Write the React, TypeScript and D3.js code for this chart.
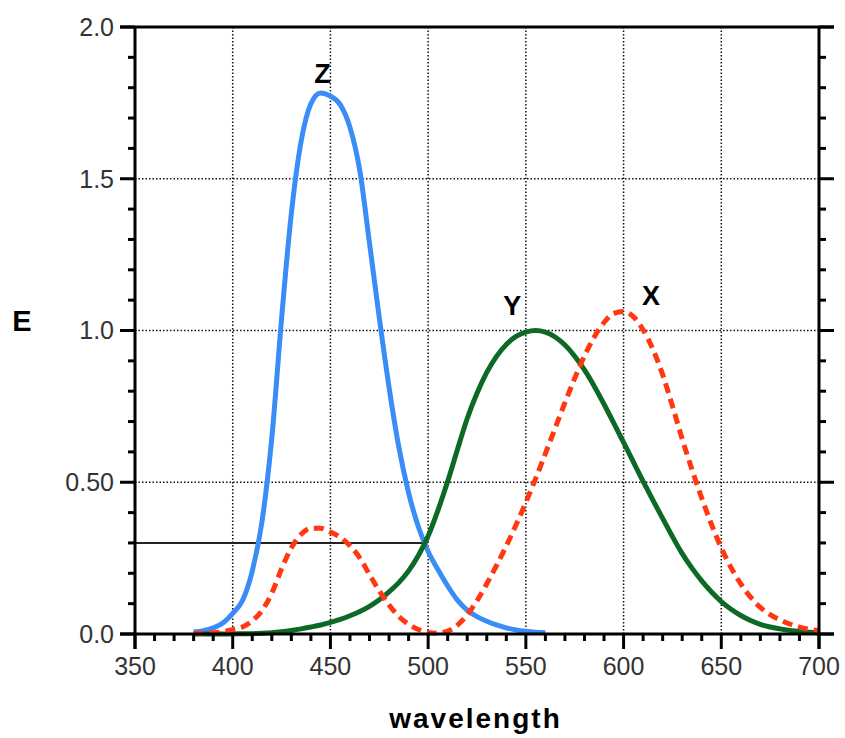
import React from "react";
import * as d3 from "d3";

// CIE 1931 colour matching functions, read at 5 nm steps
const wavelengths = [
  380, 385, 390, 395, 400, 405, 410, 415, 420, 425, 430, 435, 440, 445, 450, 455, 460, 465, 470, 475,
  480, 485, 490, 495, 500, 505, 510, 515, 520, 525, 530, 535, 540, 545, 550, 555, 560, 565, 570, 575,
  580, 585, 590, 595, 600, 605, 610, 615, 620, 625, 630, 635, 640, 645, 650, 655, 660, 665, 670, 675,
  680, 685, 690, 695, 700,
];

const xBar = [
  0.0014, 0.0022, 0.0042, 0.0077, 0.0143, 0.0232, 0.0435, 0.0776, 0.1344, 0.2148, 0.2839, 0.3285,
  0.3483, 0.3481, 0.3362, 0.3187, 0.2908, 0.2511, 0.1954, 0.1421, 0.0956, 0.058, 0.032, 0.0147,
  0.0049, 0.0024, 0.0093, 0.0291, 0.0633, 0.1096, 0.1655, 0.2257, 0.2904, 0.3597, 0.4334, 0.5121,
  0.5945, 0.6784, 0.7621, 0.8425, 0.9163, 0.9786, 1.0263, 1.0567, 1.0622, 1.0456, 1.0026, 0.9384,
  0.8544, 0.7514, 0.6424, 0.5419, 0.4479, 0.3608, 0.2835, 0.2187, 0.1649, 0.1212, 0.0874, 0.0636,
  0.0468, 0.0329, 0.0227, 0.0158, 0.0114,
];

const yBar = [
  0.0, 0.0001, 0.0001, 0.0002, 0.0004, 0.0006, 0.0012, 0.0022, 0.004, 0.0073, 0.0116, 0.0168,
  0.023, 0.0298, 0.038, 0.048, 0.06, 0.0739, 0.091, 0.1126, 0.139, 0.1693, 0.208, 0.2586, 0.323,
  0.4073, 0.503, 0.6082, 0.71, 0.7932, 0.862, 0.9149, 0.954, 0.9803, 0.995, 1.0, 0.995, 0.9786,
  0.952, 0.9154, 0.87, 0.8163, 0.757, 0.6949, 0.631, 0.5668, 0.503, 0.4412, 0.381, 0.321, 0.265,
  0.217, 0.175, 0.1382, 0.107, 0.0816, 0.061, 0.0446, 0.032, 0.0232, 0.017, 0.0119, 0.0082,
  0.0057, 0.0041,
];

// z runs from 380 to 560 nm
const zBar = [
  0.0065, 0.0106, 0.0201, 0.0362, 0.0679, 0.1102, 0.2074, 0.3713, 0.6456, 1.039, 1.3856, 1.623,
  1.7471, 1.7826, 1.7721, 1.7441, 1.6692, 1.5281, 1.2876, 1.0419, 0.813, 0.6162, 0.4652, 0.3533,
  0.272, 0.2123, 0.1582, 0.1117, 0.0783, 0.0573, 0.0422, 0.0298, 0.0203, 0.0134, 0.0088, 0.0058,
  0.0039,
];

const xTicks = [350, 400, 450, 500, 550, 600, 650, 700];
const xMinorTicks = [
  360, 370, 380, 390, 410, 420, 430, 440, 460, 470, 480, 490, 510, 520, 530, 540, 560, 570, 580,
  590, 610, 620, 630, 640, 660, 670, 680, 690,
];
const yTicks = [0, 0.5, 1.0, 1.5, 2.0];
const yTickLabels = ["0.0", "0.50", "1.0", "1.5", "2.0"];
const yMinorTicks = [0.1, 0.2, 0.3, 0.4, 0.6, 0.7, 0.8, 0.9, 1.1, 1.2, 1.3, 1.4, 1.6, 1.7, 1.8, 1.9];
const xGrid = [400, 450, 500, 550, 600, 650];
const yGrid = [0.5, 1.0, 1.5];

// reference line from the axis to where Y and Z cross
const refLevel = 0.3;
const refEnd = 499.5;

const curveLabels = [
  { name: "Z", wl: 446, value: 1.815 },
  { name: "Y", wl: 543, value: 1.051 },
  { name: "X", wl: 614, value: 1.084 },
];

const W = 845;
const H = 738;
const left = 135, right = 819, top = 27, bottom = 634;

export default function App() {
  const x = d3.scaleLinear().domain([350, 700]).range([left, right]);
  const y = d3.scaleLinear().domain([0, 2]).range([bottom, top]);

  const line = d3
    .line<[number, number]>()
    .x((d) => x(d[0]))
    .y((d) => y(d[1]))
    .curve(d3.curveMonotoneX);

  const xPts = wavelengths.map((w, i) => [w, xBar[i]] as [number, number]);
  const yPts = wavelengths.map((w, i) => [w, yBar[i]] as [number, number]);
  const zPts = zBar.map((v, i) => [wavelengths[i], v] as [number, number]);

  const tickFont = "'Liberation Sans', Arial, sans-serif";
  const majorLen = 15, minorLen = 7;

  return (
    <svg
      width={W}
      height={H}
      style={{ position: "absolute", left: 0, top: 0, background: "#fff" }}
      fontFamily={tickFont}
    >
      {/* grid */}
      <g stroke="#111" strokeWidth={1.5} strokeDasharray="1.5,2">
        {xGrid.map((t) => (
          <line key={"gx" + t} x1={x(t)} x2={x(t)} y1={top} y2={bottom} />
        ))}
        {yGrid.map((t) => (
          <line key={"gy" + t} x1={left} x2={right} y1={y(t)} y2={y(t)} />
        ))}
      </g>

      <line x1={left} x2={x(refEnd)} y1={y(refLevel)} y2={y(refLevel)} stroke="#222" strokeWidth={2} />

      {/* curves */}
      <path d={line(zPts) ?? ""} fill="none" stroke="#3a8cf7" strokeWidth={5} strokeLinejoin="round" />
      <path d={line(yPts) ?? ""} fill="none" stroke="#0c6a24" strokeWidth={5} strokeLinejoin="round" />
      <path d={line(xPts) ?? ""} fill="none" stroke="#ff3812" strokeWidth={5} strokeDasharray="10,6" />

      {/* frame */}
      <g stroke="#000" strokeWidth={3} fill="none">
        <line x1={left} x2={left} y1={top} y2={bottom + majorLen} />
        <line x1={right} x2={right} y1={top} y2={bottom + majorLen} />
        <line x1={left - majorLen} x2={right + majorLen} y1={top} y2={top} />
        <line x1={left - majorLen} x2={right + majorLen} y1={bottom} y2={bottom} />
        {yTicks.map((t) => (
          <g key={"yt" + t}>
            <line x1={left - majorLen} x2={left} y1={y(t)} y2={y(t)} />
            <line x1={right} x2={right + majorLen} y1={y(t)} y2={y(t)} />
          </g>
        ))}
        {yMinorTicks.map((t) => (
          <g key={"ym" + t}>
            <line x1={left - minorLen} x2={left} y1={y(t)} y2={y(t)} />
            <line x1={right} x2={right + minorLen} y1={y(t)} y2={y(t)} />
          </g>
        ))}
        {xTicks.map((t) => (
          <line key={"xt" + t} x1={x(t)} x2={x(t)} y1={bottom} y2={bottom + majorLen} />
        ))}
        {xMinorTicks.map((t) => (
          <line key={"xm" + t} x1={x(t)} x2={x(t)} y1={bottom} y2={bottom + minorLen} />
        ))}
      </g>

      {/* tick labels */}
      <g fontSize={25} fill="#333">
        {yTicks.map((t, i) => (
          <text key={"yl" + t} x={left - 21} y={y(t)} dy="0.35em" textAnchor="end">
            {yTickLabels[i]}
          </text>
        ))}
        {xTicks.map((t) => (
          <text key={"xl" + t} x={x(t)} y={675} textAnchor="middle">
            {t}
          </text>
        ))}
      </g>

      {/* axis titles */}
      <text x={(388 + 563) / 2} y={728} textAnchor="middle" fontSize={28} fontWeight="bold" letterSpacing={2}>
        wavelength
      </text>
      <text x={22} y={331} textAnchor="middle" fontSize={29} fontWeight="bold">
        E
      </text>

      {/* curve labels */}
      <g fontSize={27} fontWeight="bold" textAnchor="middle">
        {curveLabels.map((c) => (
          <text key={c.name} x={x(c.wl)} y={y(c.value)}>
            {c.name}
          </text>
        ))}
      </g>
    </svg>
  );
}
